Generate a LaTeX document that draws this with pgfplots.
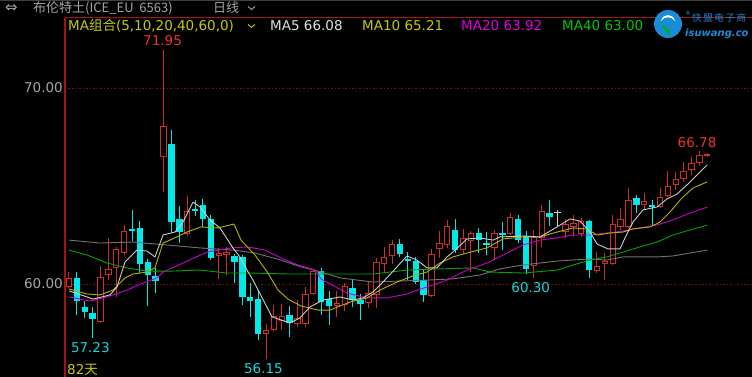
\documentclass[border=0pt]{standalone}
\usepackage{pgfplots}
\pgfplotsset{compat=1.18}
\usepackage{pgfplotstable}
\usepackage{fontspec}
\setmainfont{DejaVu Sans}
\newfontfamily\cjk{Noto Sans CJK SC}

\definecolor{candred}{RGB}{205,45,45}
\definecolor{candcyan}{RGB}{0,232,232}
\definecolor{axred}{RGB}{160,20,20}
\definecolor{gridred}{RGB}{140,10,10}
\definecolor{ma5c}{RGB}{205,205,205}
\definecolor{ma10c}{RGB}{180,180,0}
\definecolor{ma20c}{RGB}{205,0,205}
\definecolor{ma40c}{RGB}{0,165,0}
\definecolor{ma60c}{RGB}{115,115,115}
\definecolor{titlegray}{RGB}{165,165,165}
\definecolor{legyellow}{RGB}{200,200,10}
\definecolor{legwhite}{RGB}{225,225,225}
\definecolor{legmag}{RGB}{225,0,225}
\definecolor{leggreen}{RGB}{0,200,0}
\definecolor{labred}{RGB}{235,50,50}
\definecolor{labcyan}{RGB}{20,215,215}
\definecolor{logoblue}{RGB}{25,140,215}
\definecolor{dojigray}{RGB}{200,200,200}

\newcommand\lf{\fontsize{13.5}{16}\selectfont}

% rising candles (red): k open high low close
\pgfplotstableread{
k o h l c
1 59.85 60.61 59.80 60.31
5 58.06 60.92 58.02 60.36
6 60.46 62.35 60.20 60.77
7 60.82 61.89 59.34 61.79
8 61.58 63.01 61.48 62.70
13 66.48 71.95 64.69 68.06
16 62.55 64.49 62.45 63.72
20 61.43 61.84 60.26 61.58
21 61.48 61.89 60.46 61.63
26 57.45 57.96 56.15 57.65
27 57.65 58.93 57.60 58.37
28 58.11 58.98 57.65 58.37
30 57.96 59.18 57.81 58.27
31 57.96 59.85 57.81 59.49
32 59.49 60.71 59.44 60.66
35 58.88 59.64 58.32 59.03
36 58.93 60.05 58.62 59.90
39 59.03 60.10 58.78 59.54
40 59.44 61.33 58.78 61.12
41 61.02 61.89 60.56 61.38
42 61.43 62.24 61.02 62.04
47 59.39 61.79 59.34 61.53
48 61.79 62.70 61.33 62.09
49 61.99 63.27 61.84 62.96
51 61.73 62.81 61.53 62.35
52 62.19 62.70 60.61 62.60
55 61.84 62.76 61.22 62.60
57 62.55 63.62 62.50 63.42
60 60.92 62.76 60.30 62.40
61 62.35 64.03 61.89 63.72
64 62.65 63.32 62.35 63.06
65 62.91 63.52 62.40 63.11
66 62.55 63.37 62.40 63.21
68 60.66 61.63 60.56 60.92
69 61.02 61.58 60.20 61.17
70 61.02 63.52 60.97 63.06
71 62.91 63.88 62.76 63.32
72 62.91 64.90 62.86 64.29
74 64.03 64.64 63.83 64.23
76 63.93 64.90 63.88 64.44
77 64.49 65.77 64.44 65.00
78 65.05 65.71 64.80 65.36
79 65.36 66.22 65.20 65.77
80 65.82 66.48 65.56 66.17
81 66.17 66.78 66.02 66.58
82 66.53 66.70 66.48 66.63
}\upc

% falling candles (cyan)
\pgfplotstableread{
k o h l c
2 60.31 60.61 58.42 59.13
3 58.83 59.13 58.27 58.57
4 58.52 58.83 57.23 58.21
9 62.81 63.78 62.19 62.70
10 62.86 63.21 60.56 61.02
11 61.12 61.28 58.88 60.46
12 60.41 60.82 59.54 60.15
14 67.14 67.86 62.60 63.16
15 63.32 63.98 62.09 62.65
17 63.83 64.29 63.47 63.72
18 64.03 64.34 62.91 63.32
19 63.32 63.52 61.22 61.33
22 61.43 61.53 60.05 61.12
23 61.38 61.48 58.93 59.34
24 59.34 60.05 58.32 59.13
25 59.23 59.69 57.14 57.45
29 58.42 58.88 57.30 58.01
33 60.66 60.82 58.42 59.08
34 59.23 59.64 57.91 58.88
37 59.80 60.26 58.83 59.18
38 59.18 59.49 58.16 58.98
43 62.04 62.30 61.38 61.53
44 61.28 61.63 60.20 61.17
45 61.17 61.38 60.00 60.10
46 60.20 60.77 59.08 59.44
50 62.76 63.32 61.58 61.73
53 62.60 62.86 61.58 62.24
54 62.09 62.65 61.48 61.99
56 62.60 63.16 61.73 62.50
58 63.32 63.52 62.09 62.24
59 62.45 62.70 60.51 60.77
62 63.62 64.29 62.96 63.42
67 63.21 63.27 60.31 60.71
73 64.39 64.54 63.62 64.03
75 64.03 64.29 62.96 63.93
}\downc

% doji
\pgfplotstableread{
k o h l c
63 63.60 63.78 62.96 63.66
}\dojic

\pgfplotstableread{
k p
1 59.65
3.28 59.34
4.05 59.23
6.20 59.44
7.09 59.85
8.11 61.12
9.63 61.73
10.90 61.68
11.91 61.38
12.93 62.50
14.45 62.65
15.47 63.16
16.74 64.18
17.62 63.93
18.89 63.27
20.16 62.86
21.81 61.84
22.70 61.38
23.59 60.71
24.35 60.20
26.76 58.32
29.05 58.01
30.31 58.27
31.58 58.83
33.23 59.18
35.39 59.34
37.04 59.18
38.31 59.29
39.58 59.59
40.85 60.10
42.62 60.87
43.89 61.43
45.16 61.22
46.43 60.82
47.70 60.82
48.97 61.38
49.73 61.63
51.51 62.30
53.16 62.35
54.81 62.24
55.70 62.40
58.61 62.45
60.77 62.40
62.93 62.91
64.58 63.32
65.85 63.21
67.12 62.65
68.01 62.04
69.40 61.79
70.92 61.79
71.56 62.35
72.57 63.16
73.84 63.78
75.62 63.93
76.89 64.34
78.16 64.59
79.81 65.20
82 66.08
}\mafive

\pgfplotstableread{
k p
1 59.75
3.28 59.49
4.93 59.44
6.58 59.69
8.11 60.31
9.12 60.51
10.90 60.61
11.91 60.82
12.93 62.09
13.82 62.24
15.97 62.65
17.75 62.91
19.91 62.86
21.94 63.06
22.83 62.24
24.60 61.48
26.25 60.56
27.52 59.69
28.79 59.23
30.44 58.88
32.60 58.67
34.12 58.67
36.66 59.08
38.82 59.29
40.47 59.69
42.62 60.10
44.65 60.41
46.43 60.61
48.08 61.07
49.73 61.38
51.51 61.58
54.05 61.84
56.08 62.30
58.61 62.40
60.77 62.40
62.93 62.65
64.96 62.86
66.74 62.81
68.01 62.50
69.65 62.60
71.30 62.65
72.57 62.81
74.73 62.91
76.00 63.16
77.27 63.67
78.79 64.39
80.19 64.90
82 65.21
}\maten

\pgfplotstableread{
k p
1 59.34
3.66 59.13
5.82 59.34
8.36 59.69
10.39 60.05
12.17 60.31
12.93 60.61
15.47 61.07
18.51 61.63
21.56 61.84
23.72 61.89
25.87 61.73
27.90 61.33
30.06 60.97
32.22 60.71
33.00 60.25
36.28 59.54
38.82 59.29
41.36 59.29
43.89 59.49
46.43 59.85
48.97 60.20
51.51 60.71
54.05 61.07
56.58 61.58
58.61 61.99
60.77 62.24
62.93 62.35
64.96 62.50
67.12 62.50
69.27 62.60
71.30 62.70
73.46 62.86
75.62 63.01
77.65 63.27
79.81 63.62
82 63.92
}\matwenty

\pgfplotstableread{
k p
1 61.73
3.28 61.48
5.82 61.07
8.36 60.82
10.90 60.66
14.20 60.66
17.62 60.71
21.05 60.56
23.97 60.56
28.79 60.51
32.60 60.51
39.58 60.51
43.89 60.71
48.08 60.77
52.27 60.82
54.43 60.61
58.61 60.56
62.93 60.71
64.96 60.97
67.12 61.22
69.27 61.38
71.30 61.63
73.46 61.89
75.62 62.14
77.65 62.50
79.81 62.76
82 63.00
}\maforty

\pgfplotstableread{
k p
1 62.24
4.93 62.09
9.12 62.14
13.44 61.99
17.62 61.84
21.81 61.73
24.60 61.58
27.90 61.22
30.44 60.87
32.60 60.66
35.39 60.31
39.58 60.10
43.01 60.15
46.43 60.20
49.73 60.26
53.16 60.46
55.70 60.77
58.61 60.97
62.93 61.17
67.12 61.28
69.27 61.22
71.30 61.38
75.62 61.38
77.65 61.43
79.81 61.58
82 61.73
}\masixty

\begin{document}
\begin{tikzpicture}
\useasboundingbox (-65pt,0pt) rectangle (687pt,377pt);
\clip (-65pt,0pt) rectangle (687pt,377pt);
\fill[black] (-65pt,0pt) rectangle (687pt,377pt);
\fill[black!75!white] (-65pt,375.5pt) rectangle (687pt,377pt);

\begin{axis}[
  at={(0pt,0pt)}, anchor=south west,
  width=687pt, height=359pt, scale only axis,
  xmin=0.4924, xmax=87.675, ymin=55.255, ymax=73.571,
  axis x line*=top, axis y line*=left,
  x axis line style={draw=axred, line width=1pt, -},
  y axis line style={draw=axred, line width=2pt, -},
  xtick=\empty, ytick={60,70}, yticklabels={60.00,70.00},
  major tick length=0pt,
  yticklabel style={text=titlegray, font=\lf, inner sep=2pt},
  ymajorgrids,
  major grid style={draw=gridred, line width=0.8pt, dash pattern=on 1.5pt off 2pt},
]
% red candles: wick, outer body, hollow inside
\addplot[draw=none, forget plot, error bars/.cd, y dir=plus, y explicit, error mark=none,
  error bar style={draw=candred, line width=1pt}]
  table[x=k, y=l, y error plus expr=\thisrow{h}-\thisrow{l}] {\upc};
\addplot[draw=none, forget plot, error bars/.cd, y dir=plus, y explicit, error mark=none,
  error bar style={draw=candred, line width=6.4pt}]
  table[x=k, y=o, y error plus expr=\thisrow{c}-\thisrow{o}] {\upc};
\addplot[draw=none, forget plot, error bars/.cd, y dir=plus, y explicit, error mark=none,
  error bar style={draw=black, line width=4.4pt}]
  table[x=k, y expr=\thisrow{o}+0.051, y error plus expr={max(\thisrow{c}-\thisrow{o}-0.102,0)}] {\upc};
% cyan candles
\addplot[draw=none, forget plot, error bars/.cd, y dir=plus, y explicit, error mark=none,
  error bar style={draw=candcyan, line width=1pt}]
  table[x=k, y=l, y error plus expr=\thisrow{h}-\thisrow{l}] {\downc};
\addplot[draw=none, forget plot, error bars/.cd, y dir=plus, y explicit, error mark=none,
  error bar style={draw=candcyan, line width=6.4pt}]
  table[x=k, y=c, y error plus expr=\thisrow{o}-\thisrow{c}] {\downc};
% doji
\addplot[draw=none, forget plot, error bars/.cd, y dir=plus, y explicit, error mark=none,
  error bar style={draw=dojigray, line width=1pt}]
  table[x=k, y=l, y error plus expr=\thisrow{h}-\thisrow{l}] {\dojic};
\addplot[draw=none, forget plot, error bars/.cd, y dir=plus, y explicit, error mark=none,
  error bar style={draw=dojigray, line width=6.4pt}]
  table[x=k, y=o, y error plus expr=\thisrow{c}-\thisrow{o}] {\dojic};
% moving averages
\addplot[ma60c, line width=0.9pt, no marks, line join=round] table[x=k,y=p] {\masixty};
\addplot[ma40c, line width=0.9pt, no marks, line join=round] table[x=k,y=p] {\maforty};
\addplot[ma20c, line width=0.9pt, no marks, line join=round] table[x=k,y=p] {\matwenty};
\addplot[ma10c, line width=0.9pt, no marks, line join=round] table[x=k,y=p] {\maten};
\addplot[ma5c, line width=0.9pt, no marks, line join=round] table[x=k,y=p] {\mafive};
% extreme labels
\node[text=labred, font=\lf] at (axis cs:12.87,72.40) {71.95};
\node[text=labcyan, font=\lf] at (axis cs:3.71,56.76) {57.23};
\node[text=labcyan, font=\lf] at (axis cs:25.68,55.66) {56.15};
\node[text=labcyan, font=\lf] at (axis cs:59.6,59.83) {60.30};
\node[text=labred, font=\lf] at (axis cs:80.70,67.19) {66.78};
\end{axis}

% title row
\node[anchor=west, inner sep=0pt, text=titlegray, font=\fontsize{15}{15}\selectfont] at (-60pt,368.5pt) {⇔};
\node[anchor=west, inner sep=0pt, text=titlegray, font=\cjk\fontsize{13}{14}\selectfont] at (-32pt,369pt) {布伦特土(ICE\_EU\ \ 6563)};
\node[anchor=west, inner sep=0pt, text=titlegray, font=\cjk\fontsize{13}{14}\selectfont] at (148pt,369pt) {日线};
\draw[titlegray, line width=0.9pt] (183pt,370.5pt) -- (186.5pt,367.5pt) -- (190pt,370.5pt);

% MA legend row
\node[anchor=west, inner sep=0pt, text=legyellow, font=\lf] at (3pt,351pt) {MA{\cjk 组合}(5,10,20,40,60,0)};
\draw[legyellow, line width=0.9pt] (183pt,352.5pt) -- (186.5pt,349.5pt) -- (190pt,352.5pt);
\node[anchor=west, inner sep=0pt, text=legwhite, font=\lf] at (205pt,351pt) {MA5 66.08};
\node[anchor=west, inner sep=0pt, text=legyellow, font=\lf] at (297pt,351pt) {MA10 65.21};
\node[anchor=west, inner sep=0pt, text=legmag, font=\lf] at (396pt,351pt) {MA20 63.92};
\node[anchor=west, inner sep=0pt, text=leggreen, font=\lf] at (497pt,351pt) {MA40 63.00};

% logo
\fill[logoblue] (603pt,353pt) circle (14pt);
\fill[white] (596pt,356pt) .. controls (598pt,364pt) and (608pt,364pt) .. (610pt,356pt)
   .. controls (607pt,361pt) and (599pt,361pt) .. cycle;
\fill[green!70!black] (597pt,352pt) .. controls (600pt,346pt) and (604pt,343pt) .. (605pt,341pt)
   .. controls (606pt,346pt) and (602pt,350pt) .. cycle;
\node[anchor=west, inner sep=0pt, text=logoblue, font=\cjk\fontsize{9.5}{10}\selectfont] at (627pt,359pt) {快\,盟\,电\,子\,商};
\node[anchor=west, inner sep=0pt, text=logoblue, font=\fontsize{10}{10}\selectfont\bfseries\itshape] at (620pt,343pt) {isuwang.co};
\node[anchor=west, inner sep=0pt, text=logoblue, font=\fontsize{6}{6}\selectfont] at (620pt,364pt) {®};

% bottom-left day count
\node[anchor=west, inner sep=0pt, text=legyellow, font=\lf] at (2pt,7pt) {82{\cjk 天}};
\end{tikzpicture}
\end{document}
